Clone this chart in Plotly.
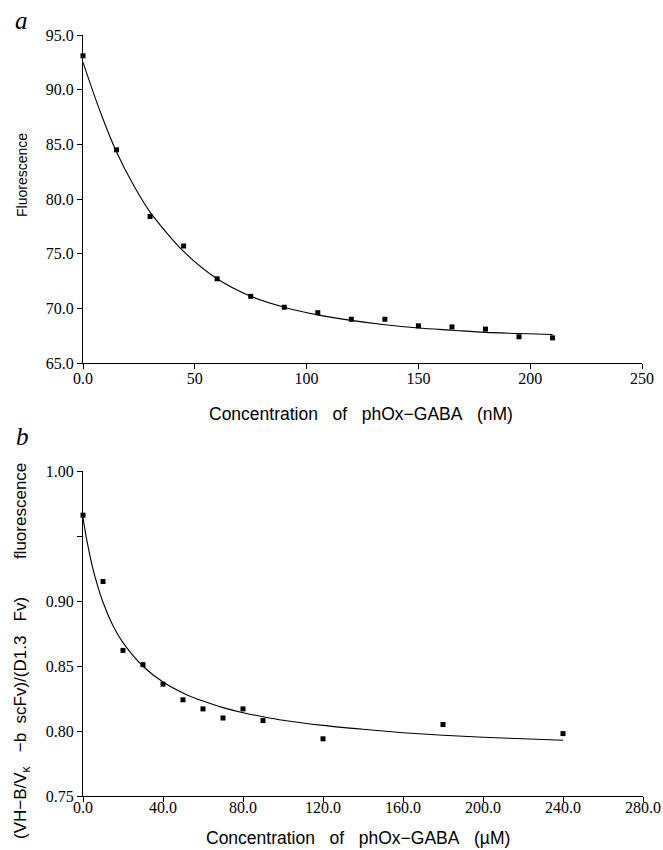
import plotly.graph_objects as go

# ---- Panel a data ----
conc_a = [0, 15, 30, 45, 60, 75, 90, 105, 120, 135, 150, 165, 180, 195, 210]
fluor_a = [93.1, 84.5, 78.4, 75.7, 72.7, 71.1, 70.1, 69.6, 69.0, 69.0, 68.4, 68.3, 68.1, 67.4, 67.3]
fit_x_a = [0, 7.5, 15, 22.5, 30, 45, 60, 75, 90, 105, 120, 135, 150, 165, 180, 195, 210]
fit_y_a = [92.5, 88.1, 84.3, 81.3, 78.8, 75.2, 72.7, 71.1, 70.1, 69.4, 68.9, 68.5, 68.2, 68.0, 67.8, 67.7, 67.6]
xtick_vals_a = [0, 50, 100, 150, 200, 250]
xtick_text_a = ["0.0", "50", "100", "150", "200", "250"]
ytick_vals_a = [65, 70, 75, 80, 85, 90, 95]
ytick_text_a = ["65.0", "70.0", "75.0", "80.0", "85.0", "90.0", "95.0"]

# ---- Panel b data ----
conc_b = [0, 10, 20, 30, 40, 50, 60, 70, 80, 90, 120, 180, 240]
ratio_b = [0.966, 0.915, 0.862, 0.851, 0.836, 0.824, 0.817, 0.810, 0.817, 0.808, 0.794, 0.805, 0.798]
fit_x_b = [0, 2, 5, 10, 15, 20, 30, 40, 50, 60, 70, 80, 90, 100, 120, 140, 160, 180, 200, 220, 240]
fit_y_b = [0.964, 0.946, 0.9245, 0.899, 0.881, 0.868, 0.8498, 0.8377, 0.8293, 0.8230, 0.8180,
           0.8141, 0.8110, 0.8083, 0.8043, 0.8013, 0.7987, 0.7967, 0.7952, 0.7940, 0.7929]
xtick_vals_b = [0, 40, 80, 120, 160, 200, 240, 280]
xtick_text_b = ["0.0", "40.0", "80.0", "120.0", "160.0", "200.0", "240.0", "280.0"]
ytick_vals_b = [0.75, 0.80, 0.85, 0.90, 1.00]
ytick_text_b = ["0.75", "0.80", "0.85", "0.90", "1.00"]

W, H = 663, 850
NB = "\u00a0"

fig = go.Figure()

marker = dict(symbol="square", size=5, color="black")
line = dict(color="black", width=1.1, shape="spline", smoothing=0.8)

fig.add_trace(go.Scatter(x=fit_x_a, y=fit_y_a, mode="lines", line=line,
                         xaxis="x", yaxis="y", showlegend=False, cliponaxis=False))
fig.add_trace(go.Scatter(x=conc_a, y=fluor_a, mode="markers", marker=marker,
                         xaxis="x", yaxis="y", showlegend=False, cliponaxis=False))
fig.add_trace(go.Scatter(x=fit_x_b, y=fit_y_b, mode="lines", line=line,
                         xaxis="x2", yaxis="y2", showlegend=False, cliponaxis=False))
fig.add_trace(go.Scatter(x=conc_b, y=ratio_b, mode="markers", marker=marker,
                         xaxis="x2", yaxis="y2", showlegend=False, cliponaxis=False))

tickfont = dict(family="Liberation Serif", size=16, color="black")
axis_common = dict(showline=True, linecolor="black", linewidth=1.3, ticks="outside",
                   ticklen=5, tickwidth=1, tickcolor="black", showgrid=False,
                   zeroline=False, mirror=False, automargin=False, tickfont=tickfont,
                   tickmode="array")

fig.update_layout(
    width=W, height=H,
    margin=dict(l=0, r=0, t=0, b=0),
    paper_bgcolor="white", plot_bgcolor="white",
    template="none",
    xaxis=dict(domain=[83 / W, 642 / W], range=[0, 250], anchor="y",
               tickvals=xtick_vals_a, ticktext=xtick_text_a, ticklabelstandoff=-4,
               **axis_common),
    yaxis=dict(domain=[1 - 363 / H, 1 - 35 / H], range=[65, 95], anchor="x",
               tickvals=ytick_vals_a, ticktext=ytick_text_a, **axis_common),
    xaxis2=dict(domain=[83 / W, 643 / W], range=[0, 280], anchor="y2",
                tickvals=xtick_vals_b, ticktext=xtick_text_b, ticklabelstandoff=-8,
                **axis_common),
    yaxis2=dict(domain=[1 - 796 / H, 1 - 471 / H], range=[0.75, 1.00], anchor="x2",
                tickvals=ytick_vals_b, ticktext=ytick_text_b,
                minor=dict(tickmode="linear", tick0=0.75, dtick=0.05, ticks="outside",
                           ticklen=5, tickwidth=1, tickcolor="black", showgrid=False),
                **axis_common),
)

xt_font = dict(family="Liberation Sans", size=17.5, color="black")
yt_font_a = dict(family="Liberation Sans", size=14, color="black")
yt_font_b = dict(family="Liberation Sans", size=17, color="black")
g3 = NB * 3
annotations = [
    dict(text="<i>a</i>", x=21 / W, y=1 - 21 / H, xref="paper", yref="paper",
         showarrow=False, font=dict(family="Liberation Serif", size=25, color="black"),
         xanchor="center", yanchor="middle"),
    dict(text="<i>b</i>", x=22 / W, y=1 - 436 / H, xref="paper", yref="paper",
         showarrow=False, font=dict(family="Liberation Serif", size=25, color="black"),
         xanchor="center", yanchor="middle"),
    dict(text="Concentration" + g3 + "of" + g3 + "phOx\u2212GABA" + g3 + "(nM)",
         x=361 / W, y=1 - 414 / H, xref="paper", yref="paper", showarrow=False,
         font=xt_font, xanchor="center", yanchor="middle"),
    dict(text="Concentration" + g3 + "of" + g3 + "phOx\u2212GABA" + g3 + "(\u00b5M)",
         x=358 / W, y=1 - 838 / H, xref="paper", yref="paper", showarrow=False,
         font=xt_font, xanchor="center", yanchor="middle"),
    dict(text="Fluorescence", x=22 / W, y=1 - 175 / H, xref="paper", yref="paper",
         showarrow=False, textangle=-90, font=yt_font_a,
         xanchor="center", yanchor="middle"),
    dict(text="(VH\u2212B/V<sub>\u03ba</sub>" + NB * 3 + "\u2212b" + NB * 2 + "scFv)/(D1.3"
              + NB * 3 + "Fv)" + NB * 8 + "fluorescence",
         x=22 / W, y=1 - 651 / H, xref="paper", yref="paper",
         showarrow=False, textangle=-90, font=yt_font_b,
         xanchor="center", yanchor="middle"),
]
fig.update_layout(annotations=annotations)

fig.write_html(
    "out.html",
    config={"displayModeBar": False},
    post_script="document.body.style.margin='0';document.body.style.padding='0';"
                "document.body.style.overflow='hidden';",
)
